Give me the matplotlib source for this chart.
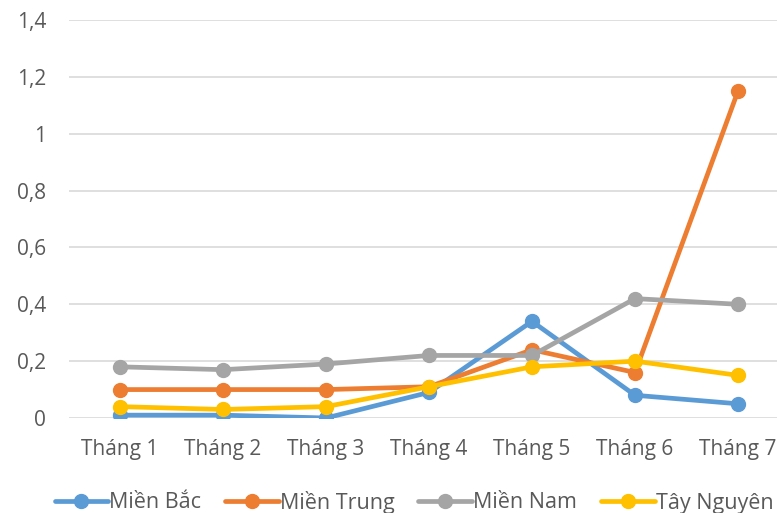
import matplotlib.pyplot as plt
from matplotlib.ticker import FuncFormatter

plt.rcParams['font.family'] = ['Open Sans', 'DejaVu Sans']

months = ["Tháng 1", "Tháng 2", "Tháng 3", "Tháng 4", "Tháng 5", "Tháng 6", "Tháng 7"]
mien_bac = [0.01, 0.01, 0.0, 0.09, 0.34, 0.08, 0.05]
mien_trung = [0.10, 0.10, 0.10, 0.11, 0.24, 0.16, 1.15]
mien_nam = [0.18, 0.17, 0.19, 0.22, 0.22, 0.42, 0.40]
tay_nguyen = [0.04, 0.03, 0.04, 0.11, 0.18, 0.20, 0.15]

series = [
    ("Miền Bắc", mien_bac, "#5b9bd5"),
    ("Miền Trung", mien_trung, "#ed7d31"),
    ("Miền Nam", mien_nam, "#a5a5a5"),
    ("Tây Nguyên", tay_nguyen, "#ffc000"),
]

text_color = "#595959"

fig = plt.figure(figsize=(7.77, 5.13), dpi=100)
ax = fig.add_axes([68.5 / 777, 95 / 513, 721 / 777, 398 / 513])

x = range(len(months))
for name, vals, col in series:
    ax.plot(x, vals, color=col, lw=3.4, marker='o', markersize=10, label=name,
            solid_capstyle='round')

ax.set_xlim(-0.5, len(months) - 0.5)
ax.set_ylim(0, 1.4)
ax.set_yticks([0, 0.2, 0.4, 0.6, 0.8, 1.0, 1.2, 1.4])
ax.yaxis.set_major_formatter(FuncFormatter(lambda v, p: ("%g" % round(v, 1)).replace(".", ",")))
ax.set_xticks(list(x))
ax.set_xticklabels(months)

ax.grid(axis='y', color="#d9d9d9", lw=1.2)
ax.set_axisbelow(True)
for s in ax.spines.values():
    s.set_visible(False)
ax.tick_params(length=0, labelsize=15, colors=text_color)
ax.tick_params(axis='x', pad=15)
ax.tick_params(axis='y', pad=16)

leg = fig.legend(loc='center', bbox_to_anchor=(414 / 777, 11 / 513), ncol=4, frameon=False,
                 fontsize=15.5, handlelength=2.5, handletextpad=0.05, columnspacing=1.1)
for t in leg.get_texts():
    t.set_color(text_color)

fig.savefig("out.png", dpi=100)
